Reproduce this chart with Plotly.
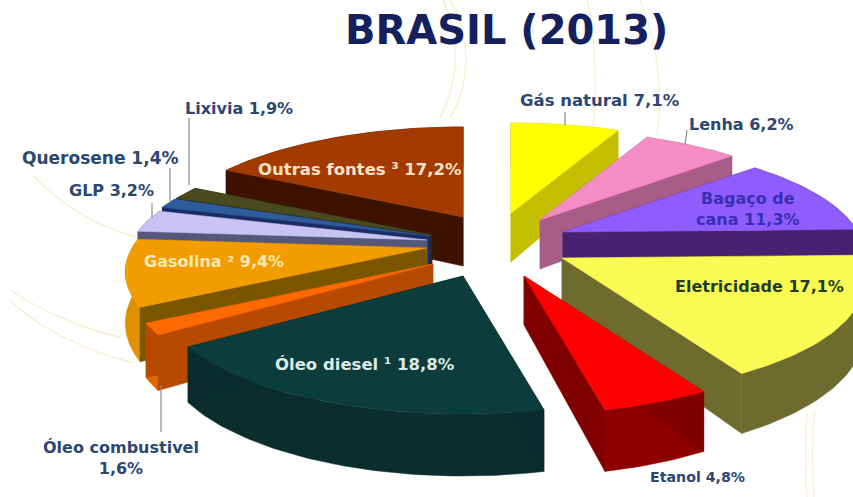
import math
import plotly.graph_objects as go

# ---- data ----
slice_names = ["Gás natural", "Lenha", "Bagaço de cana", "Eletricidade", "Etanol", "Óleo diesel",
               "Óleo combustivel", "Gasolina", "GLP", "Querosene", "Lixivia", "Outras fontes"]
shares = [7.1, 6.2, 11.3, 17.1, 4.8, 18.8, 1.6, 9.4, 3.2, 1.4, 1.9, 17.2]

# ---- styling and layout of the exploded 3D pie ----
top_colors = ["#FFFF00", "#F58CC4", "#8E5CFF", "#FAFA55", "#FF0000", "#0C3C3C",
              "#FF6A00", "#F39C00", "#C8C2F5", "#2E5C9A", "#4A4A20", "#A33A00"]
radial_colors = ["#C4BE00", "#A85C88", "#472270", "#6E6B2E", "#800000", "#0A2C2E",
                 "#B84A00", "#7A5600", "#56587A", "#1A2C66", "#2A2A10", "#3E1200"]
arc_colors = ["#C4BE00", "#A85C88", "#472270", "#6E6B2E", "#8E0000", "#0B2D2E",
              "#E06800", "#E09000", "#56587A", "#1A2C66", "#2A2A10", "#3E1200"]
apex_x = [511, 540, 563, 562, 524, 463, 433, 427, 427, 430, 432, 463]
apex_y = [213, 220, 232, 258, 276, 276, 264, 248, 240, 236, 235, 217]
draw_order = [11, 10, 9, 8, 7, 6, 5, 0, 1, 2, 3, 4]
RX, RY, PERSP, DEPTH = 295, 109, 0.21, 49


def scale(theta):
    return 1 / (1 - PERSP * (-math.cos(theta)))


def rim(i, theta, drop=False):
    s = scale(theta)
    x = apex_x[i] + RX * math.sin(theta) * s
    y = apex_y[i] - RY * math.cos(theta) * s
    return x, y + (DEPTH * s if drop else 0)


def polygon(fig, pts, color):
    xs = [p[0] for p in pts] + [pts[0][0]]
    ys = [p[1] for p in pts] + [pts[0][1]]
    fig.add_trace(go.Scatter(x=xs, y=ys, mode="lines", fill="toself", fillcolor=color,
                             line=dict(color=color, width=0.5), hoverinfo="skip", showlegend=False))


fig = go.Figure()

total = sum(shares)
starts = [sum(shares[:i]) / total * 2 * math.pi for i in range(len(shares))]
ends = [sum(shares[:i + 1]) / total * 2 * math.pi for i in range(len(shares))]

for i in draw_order:
    n = max(6, int(shares[i] * 3))
    thetas = [starts[i] + (ends[i] - starts[i]) * j / n for j in range(n + 1)]
    top = [rim(i, t) for t in thetas]
    low = [rim(i, t, True) for t in thetas]
    a = (apex_x[i], apex_y[i])
    b = (apex_x[i], apex_y[i] + DEPTH)
    polygon(fig, top + low[::-1], arc_colors[i])
    polygon(fig, [a, top[0], low[0], b], radial_colors[i])
    polygon(fig, [a, top[-1], low[-1], b], radial_colors[i])
    polygon(fig, [a] + top, top_colors[i])

NAVY = "#2C4770"
notes = [
    ("Gás natural 7,1%", 600, 100, NAVY, 16.5),
    ("Lenha 6,2%", 741, 124, NAVY, 16),
    ("Bagaço de<br>cana 11,3%", 748, 209, "#3A2FB0", 16),
    ("Eletricidade 17,1%", 759, 286, "#1F3D2A", 16),
    ("Etanol 4,8%", 697, 477, NAVY, 14.2),
    ("Óleo diesel ¹ 18,8%", 365, 364, "#DCE9E6", 16.5),
    ("Óleo combustivel<br>1,6%", 121, 458, NAVY, 16),
    ("Gasolina ² 9,4%", 214, 261, "#FFE9B0", 16),
    ("GLP 3,2%", 111, 190, NAVY, 16),
    ("Querosene 1,4%", 100, 158, NAVY, 17),
    ("Lixivia 1,9%", 239, 108, NAVY, 16),
    ("Outras fontes ³ 17,2%", 360, 169, "#FFE3C8", 16.5),
]
annotations = [dict(x=x, y=y, text=f"<b>{t}</b>", showarrow=False, xref="x", yref="y",
                    font=dict(family="DejaVu Sans", size=sz, color=c), align="center")
               for t, x, y, c, sz in notes]
annotations.append(dict(x=506, y=30, text="<b>BRASIL (2013)</b>", showarrow=False, xref="x", yref="y",
                        font=dict(family="DejaVu Sans", size=40, color="#14215E")))

leaders = [(565, 112, 565, 125), (687, 130, 685, 145), (189, 118, 189, 185),
           (170, 168, 170, 201), (152, 203, 152, 218), (161, 385, 161, 432)]
shapes = [dict(type="line", x0=a, y0=b, x1=c, y1=d, xref="x", yref="y", layer="above",
               line=dict(color="#7F8C8D", width=1.2)) for a, b, c, d in leaders]
curves = ["M 443 0 C 458 30 462 75 440 118",
          "M 450 0 C 470 35 472 80 450 118",
          "M 587 0 C 594 30 598 85 593 125",
          "M 640 0 C 656 40 664 85 657 135",
          "M 33 175 C 60 205 100 228 137 237",
          "M 10 290 C 40 310 85 330 123 338",
          "M 10 300 C 40 330 90 352 133 363",
          "M 807 497 C 805 470 805 440 807 413",
          "M 814 497 C 812 470 812 440 814 413"]
shapes += [dict(type="path", path=p, xref="x", yref="y", layer="below",
                line=dict(color="#F8EFD2", width=1.5)) for p in curves]

fig.update_layout(width=853, height=497, margin=dict(l=0, r=0, t=0, b=0), showlegend=False,
                  paper_bgcolor="white", plot_bgcolor="white",
                  annotations=annotations, shapes=shapes,
                  xaxis=dict(range=[0, 853], visible=False, fixedrange=True),
                  yaxis=dict(range=[497, 0], visible=False, fixedrange=True))
fig.write_html("out.html", config=dict(displayModeBar=False),
               post_script="document.body.style.margin='0';")
